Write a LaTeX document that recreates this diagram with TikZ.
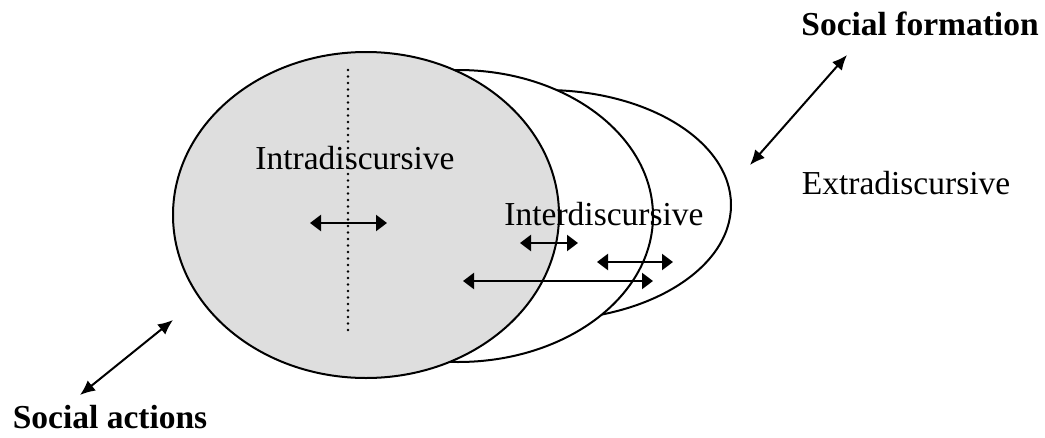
\documentclass[tikz,border=0pt]{standalone}
\usepackage{fontspec}
\setmainfont{Liberation Serif}
\usetikzlibrary{arrows.meta}
\begin{document}
\begin{tikzpicture}[x=1pt,y=-1pt,
  lbl/.style={font=\fontsize{33.5}{40}\selectfont, inner sep=0pt, anchor=base},
  blbl/.style={inner sep=0pt, anchor=base, font=\fontsize{33.5}{40}\selectfont\bfseries},
  rim/.style={line width=2pt, draw=black},
  dbl/.style={line width=2.3pt, {Triangle[length=11pt,width=16pt]}-{Triangle[length=11pt,width=16pt]}},
  diag/.style={line width=2pt, {Latex[length=15pt,width=13pt]}-{Latex[length=15pt,width=13pt]}},
]
\useasboundingbox (0,0) rectangle (1045,437);
% circles of discourse
\draw[rim, fill=white] (545,205) ellipse [x radius=186, y radius=115];
\draw[rim, fill=white] (458,216) ellipse [x radius=195, y radius=146];
\draw[rim, fill=gray!26] (366,215) ellipse [x radius=193, y radius=163];
% dotted divider
\coordinate (dtop) at (348,70);
\coordinate (dbot) at (348,333);
\draw[line width=2.6pt, line cap=round, dash pattern=on 0pt off 6.5pt] (dtop) -- (dbot);
% labels
\node[lbl] (intra) at (355,169) {Intradiscursive};
\node[lbl] (inter) at (604,225) {Interdiscursive};
\node[lbl] (extra) at (906,194) {Extradiscursive};
\node[blbl] (sf) at (920,35) {Social formation};
\node[blbl] (sa) at (110,428) {Social actions};
% arrow ends
\coordinate (i1) at (310,223); \coordinate (i2) at (387,223);
\coordinate (a1) at (520,243); \coordinate (a2) at (578,243);
\coordinate (b1) at (597,262); \coordinate (b2) at (673,262);
\coordinate (c1) at (463,281); \coordinate (c2) at (653,281);
\coordinate (f1) at (750,165); \coordinate (f2) at (847,55);
\coordinate (s1) at (80,395);  \coordinate (s2) at (173,320);
\draw[dbl] (i1) -- (i2);
\draw[dbl] (a1) -- (a2);
\draw[dbl] (b1) -- (b2);
\draw[dbl] (c1) -- (c2);
\draw[diag] (f1) -- (f2);
\draw[diag] (s1) -- (s2);
\end{tikzpicture}
\end{document}
